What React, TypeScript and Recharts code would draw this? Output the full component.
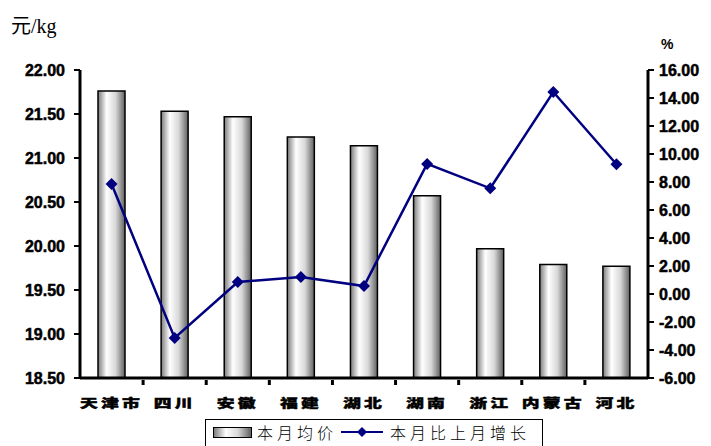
import { Bar, ComposedChart, Line, XAxis, YAxis } from 'recharts';

const categories = ['天津市', '四川', '安徽', '福建', '湖北', '湖南', '浙江', '内蒙古', '河北'];
const avgPrice = [21.76, 21.53, 21.47, 21.24, 21.14, 20.57, 19.97, 19.79, 19.77];
const monthChange = [7.86, -3.14, 0.86, 1.21, 0.57, 9.29, 7.55, 14.43, 9.27];
const priceTicks = [18.5, 19, 19.5, 20, 20.5, 21, 21.5, 22];
const changeTicks = [-6, -4, -2, 0, 2, 4, 6, 8, 10, 12, 14, 16];

const data = categories.map((name, i) => ({ name, price: avgPrice[i], change: monthChange[i] }));

const numFont = {
  fontSize: 16,
  fontWeight: 'bold' as const,
  fill: '#000',
  stroke: '#000',
  strokeWidth: 0.5,
  fontFamily: 'Liberation Sans, Arial, sans-serif',
};

function CategoryTick(props: any) {
  const { x, y, payload, index } = props;
  const step = (648 - 80) / categories.length;
  return (
    <g>
      {index > 0 && <line x1={x - step / 2} x2={x - step / 2} y1={y - 6} y2={y - 1} stroke="#000" strokeWidth={3} />}
      <text
        transform={`translate(${x},${y + 22}) scale(1.05,0.72)`}
        textAnchor="middle"
        fontSize={17}
        fontWeight={900}
        letterSpacing={3}
        fontFamily="Noto Sans CJK SC"
        fill="#000"
        stroke="#000"
        strokeWidth={0.6}
      >
        {payload.value}
      </text>
    </g>
  );
}

export default function App() {
  return (
    <div style={{ position: 'absolute', left: 0, top: 0, width: 711, height: 446, background: '#fff', overflow: 'hidden' }}>
      <div style={{ position: 'absolute', left: 11, top: 10, fontSize: 20, fontFamily: 'Liberation Serif, Noto Sans CJK SC, serif', color: '#000' }}>
        元/kg
      </div>
      <div style={{ position: 'absolute', left: 661, top: 36, fontSize: 14, fontWeight: 'bold', fontFamily: 'Liberation Sans, Arial, sans-serif' }}>
        %
      </div>
      <ComposedChart width={711} height={446} data={data} margin={{ top: 70, right: 0, bottom: 38, left: 0 }} barCategoryGap={18}>
        <defs>
          <linearGradient id="barGrad" x1="0" y1="0" x2="1" y2="0">
            <stop offset="0%" stopColor="#7a7a7a" />
            <stop offset="32%" stopColor="#ffffff" />
            <stop offset="65%" stopColor="#d8d8d8" />
            <stop offset="100%" stopColor="#606060" />
          </linearGradient>
        </defs>
        <XAxis
          dataKey="name"
          height={30}
          axisLine={{ stroke: '#000', strokeWidth: 3 }}
          tickLine={false}
          tick={<CategoryTick />}
          interval={0}
        />
        <YAxis
          yAxisId="left"
          width={80}
          domain={[18.5, 22]}
          ticks={priceTicks}
          allowDataOverflow
          tickFormatter={(v: number) => v.toFixed(2)}
          axisLine={{ stroke: '#000', strokeWidth: 3 }}
          tickLine={{ stroke: '#000', strokeWidth: 2 }}
          tickSize={6}
          tick={{ ...numFont, dx: -7 }}
        />
        <YAxis
          yAxisId="right"
          orientation="right"
          width={63}
          domain={[-6, 16]}
          ticks={changeTicks}
          allowDataOverflow
          tickFormatter={(v: number) => v.toFixed(2)}
          axisLine={{ stroke: '#000', strokeWidth: 3 }}
          tickLine={{ stroke: '#000', strokeWidth: 2 }}
          tickSize={6}
          tick={{ ...numFont, dx: 3 }}
        />
        <Bar
          yAxisId="left"
          dataKey="price"
          barSize={27}
          fill="url(#barGrad)"
          stroke="#000"
          strokeWidth={1.5}
          isAnimationActive={false}
        />
        <Line
          yAxisId="right"
          dataKey="change"
          stroke="#000080"
          strokeWidth={2.5}
          dot={(p: any) => (
            <path
              key={p.index}
              d={`M${p.cx},${p.cy - 6} L${p.cx + 6},${p.cy} L${p.cx},${p.cy + 6} L${p.cx - 6},${p.cy} Z`}
              fill="#000080"
            />
          )}
          isAnimationActive={false}
        />
      </ComposedChart>
      <div
        style={{
          position: 'absolute',
          left: 205,
          top: 419,
          width: 338,
          height: 30,
          border: '1.5px solid #000',
          boxSizing: 'border-box',
          display: 'flex',
          alignItems: 'center',
          fontFamily: 'Noto Sans CJK SC',
          fontWeight: 300,
          fontSize: 16,
          letterSpacing: 4,
          color: '#000',
          paddingBottom: 4,
        }}
      >
        <span
          style={{
            marginLeft: 7,
            width: 37,
            height: 9,
            border: '1.5px solid #000',
            background: 'linear-gradient(to right, #7a7a7a, #fff 32%, #d8d8d8 65%, #606060)',
          }}
        />
        <span style={{ marginLeft: 5 }}>本月均价</span>
        <svg width={42} height={14} style={{ marginLeft: 4 }}>
          <line x1={0} x2={42} y1={7} y2={7} stroke="#000080" strokeWidth={2} />
          <path d="M21,2 L26,7 L21,12 L16,7 Z" fill="#000080" />
        </svg>
        <span style={{ marginLeft: 7 }}>本月比上月增长</span>
      </div>
    </div>
  );
}
